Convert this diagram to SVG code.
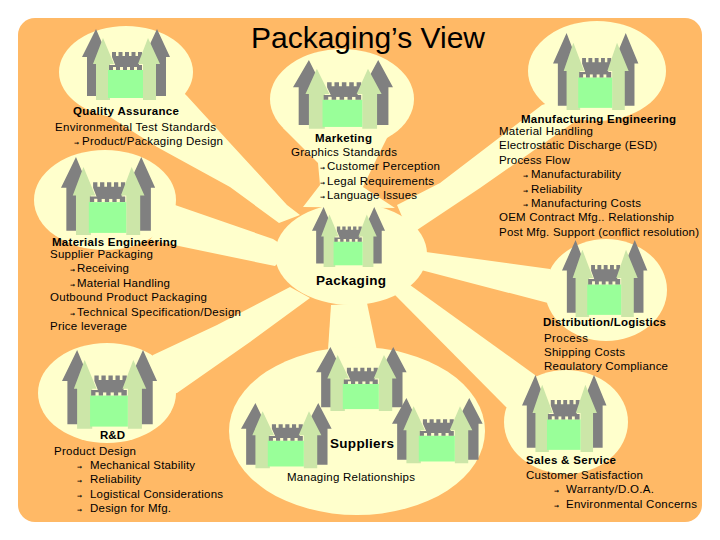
<svg xmlns="http://www.w3.org/2000/svg" width="720" height="540" viewBox="0 0 720 540">
<style>
text{font-family:"Liberation Sans",Arial,sans-serif;fill:#000}
.t{font-size:11.5px}
.h{font-size:11.5px;font-weight:bold}
.b{font-size:13.5px;font-weight:bold}
.a{font-size:6px;font-family:"DejaVu Sans",sans-serif;font-weight:bold}
.title{font-size:30px}
.c{fill:#FFFFCC}
</style>
<defs>
<g id="castle">
<path fill="#808080" d="M14 0L26 28H22V67H5V28H0ZM75 0L88 28H84V67H66V28H62Z"/>
<path fill="#808080" d="M30 23h4v4h2.500v-4h4v4h2.500v-4h4v4h2.500v-4h4v4h2.500v-4h4V28L56 38H34L30 28Z"/>
<path fill="#CCE6A8" d="M21 9L32 35H28V71H14V35H11ZM66 9L78 35H74V71H61V35H56Z"/>
<rect x="26" y="41" width="35" height="28" fill="#99FF99"/>
<path fill="#808080" d="M27 36h33v2h-33zM27 38h4v3h-4zM34 38h4v3h-4zM41 38h4v3h-4zM48 38h4v3h-4zM55 38h5v3h-5z"/>
</g>
</defs>
<rect x="18" y="18" width="684" height="504" rx="17" fill="#FFB966"/>
<g id="connectors" class="c">
<polygon points="150,60 187,96 230,143 287,205 300,215 279,223 230,187 157,147 110,117"/>
<polygon points="175,205 273,239 290,250 275,266 150,240"/>
<polygon points="153,355 217,325 290,287 310,298 250,342 177,393 130,400"/>
<polygon points="283,128 318,163 320,185 303,207 395,208 363,187 377,158 392,128"/>
<polygon points="542,105 440,183 397,205 410,235 420,228 480,188 580,118 590,90"/>
<polygon points="426,252 550,269 560,310 548,303 421,270 405,260"/>
<polygon points="410,285 535,375 570,420 506,407 395,295"/>
<polygon points="327,365 331,305 367,303 380,365"/>
</g>
<g id="packaging"><ellipse class="c" cx="351" cy="254" rx="76" ry="51"/><use href="#castle" transform="translate(312 207) scale(.83 .845)"/><text class="b" x="316" y="285" textLength="70">Packaging</text></g>
<g id="quality"><ellipse class="c" cx="126" cy="72" rx="67" ry="46"/><use href="#castle" transform="translate(82 29)"/>
<text class="h" x="73" y="115" textLength="106">Quality Assurance</text>
<text class="t" x="55" y="131" textLength="161">Environmental Test Standards</text>
<text class="a" x="74" y="145">→</text><text class="t" x="82" y="145" textLength="141">Product/Packaging Design</text></g>
<g id="marketing"><ellipse class="c" cx="342" cy="99" rx="72" ry="50"/><use href="#castle" transform="translate(293 60) scale(1.136 .97)"/>
<text class="h" x="315" y="142" textLength="57">Marketing</text>
<text class="t" x="291" y="156" textLength="106">Graphics Standards</text>
<text class="a" x="320" y="170">→</text><text class="t" x="327" y="170" textLength="113">Customer Perception</text>
<text class="a" x="320" y="185">→</text><text class="t" x="327" y="185" textLength="107">Legal Requirements</text>
<text class="a" x="320" y="199">→</text><text class="t" x="327" y="199" textLength="90">Language Issues</text></g>
<g id="manufacturing"><ellipse class="c" cx="597" cy="71" rx="69" ry="50"/><use href="#castle" transform="translate(553 33) scale(.97 1.085)"/>
<text class="h" x="521" y="123" textLength="155">Manufacturing Engineering</text>
<text class="t" x="499" y="135" textLength="94">Material Handling</text>
<text class="t" x="499" y="149" textLength="158">Electrostatic Discharge (ESD)</text>
<text class="t" x="499" y="164" textLength="71">Process Flow</text>
<text class="a" x="523" y="178">→</text><text class="t" x="531" y="178" textLength="90">Manufacturability</text>
<text class="a" x="523" y="193">→</text><text class="t" x="531" y="193" textLength="51">Reliability</text>
<text class="a" x="523" y="207">→</text><text class="t" x="531" y="207" textLength="110">Manufacturing Costs</text>
<text class="t" x="499" y="221" textLength="175">OEM Contract Mfg.. Relationship</text>
<text class="t" x="499" y="236" textLength="200">Post Mfg. Support (conflict resolution)</text></g>
<g id="materials"><ellipse class="c" cx="105" cy="200" rx="71" ry="50"/><use href="#castle" transform="translate(61 157) scale(1.07 1.1)"/>
<text class="h" x="52" y="246" textLength="125">Materials Engineering</text>
<text class="t" x="50" y="258" textLength="103">Supplier Packaging</text>
<text class="a" x="70" y="272">→</text><text class="t" x="77" y="272" textLength="52">Receiving</text>
<text class="a" x="70" y="287">→</text><text class="t" x="77" y="287" textLength="93">Material Handling</text>
<text class="t" x="50" y="301" textLength="157">Outbound Product Packaging</text>
<text class="a" x="70" y="316">→</text><text class="t" x="77" y="316" textLength="164">Technical Specification/Design</text>
<text class="t" x="50" y="330" textLength="77">Price leverage</text></g>
<g id="distribution"><ellipse class="c" cx="606" cy="290" rx="61" ry="51"/><use href="#castle" transform="translate(562 240) scale(.97 1.085)"/>
<text class="h" x="543" y="326" textLength="123">Distribution/Logistics</text>
<text class="t" x="544" y="342" textLength="44">Process</text>
<text class="t" x="544" y="356" textLength="81">Shipping Costs</text>
<text class="t" x="544" y="370" textLength="124">Regulatory Compliance</text></g>
<g id="rd"><ellipse class="c" cx="107" cy="393" rx="69" ry="50"/><use href="#castle" transform="translate(62 350) scale(1.08 1.11)"/>
<text class="h" x="100" y="439" textLength="25">R&amp;D</text>
<text class="t" x="54" y="455" textLength="82">Product Design</text>
<text class="a" x="77" y="469">→</text><text class="t" x="90" y="469" textLength="105">Mechanical Stability</text>
<text class="a" x="77" y="483">→</text><text class="t" x="90" y="483" textLength="51">Reliability</text>
<text class="a" x="77" y="498">→</text><text class="t" x="90" y="498" textLength="133">Logistical Considerations</text>
<text class="a" x="77" y="512">→</text><text class="t" x="90" y="512" textLength="81">Design for Mfg.</text></g>
<g id="suppliers"><ellipse class="c" cx="357" cy="431" rx="128" ry="84"/>
<use href="#castle" transform="translate(316 347) scale(1.03 .9)"/>
<use href="#castle" transform="translate(241 403) scale(1.03 .92)"/>
<use href="#castle" transform="translate(392 398) scale(1.03 .92)"/>
<text class="b" x="330" y="448" textLength="64">Suppliers</text>
<text class="t" x="287" y="481" textLength="128">Managing Relationships</text></g>
<g id="sales"><ellipse class="c" cx="566" cy="422" rx="62" ry="52"/><use href="#castle" transform="translate(522 375) scale(.96 1.085)"/>
<text class="h" x="526" y="464" textLength="90">Sales &amp; Service</text>
<text class="t" x="526" y="479" textLength="117">Customer Satisfaction</text>
<text class="a" x="554" y="493">→</text><text class="t" x="566" y="493" textLength="88">Warranty/D.O.A.</text>
<text class="a" x="554" y="508">→</text><text class="t" x="566" y="508" textLength="131">Environmental Concerns</text></g>
<text class="title" x="251" y="48" textLength="234">Packaging’s View</text>
</svg>
